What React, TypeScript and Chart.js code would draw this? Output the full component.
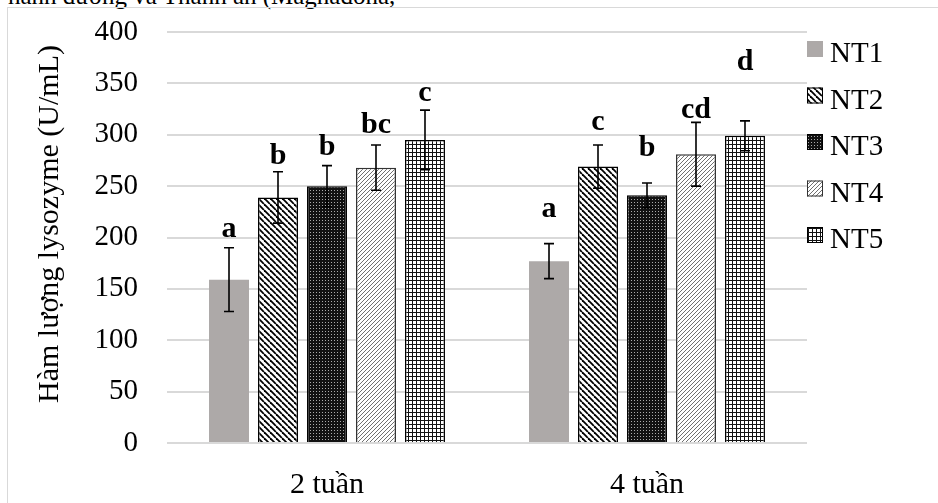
import React, { useEffect, useRef } from 'react';
import { Chart, registerables } from 'chart.js';

Chart.register(...registerables);

// ---- data ----
const categories = ['2 tuần', '4 tuần'];
const seriesNames = ['NT1', 'NT2', 'NT3', 'NT4', 'NT5'];

const nt1 = [159, 177];
const nt2 = [239, 269];
const nt3 = [250, 241];
const nt4 = [268, 281];
const nt5 = [295, 299];

const nt1Err = [31, 17];
const nt2Err = [25, 21];
const nt3Err = [20, 12];
const nt4Err = [22, 31];
const nt5Err = [29, 14.5];

const nt1Letters = ['a', 'a'];
const nt2Letters = ['b', 'c'];
const nt3Letters = ['b', 'b'];
const nt4Letters = ['bc', 'cd'];
const nt5Letters = ['c', 'd'];

// value level where each significance letter sits (its baseline)
const nt1LetterAt = [200.5, 220];
const nt2LetterAt = [272, 304.5];
const nt3LetterAt = [280, 279];
const nt4LetterAt = [301.7, 316];
const nt5LetterAt = [332.6, 362.7];

const yMin = 0;
const yMax = 400;
const yStep = 50;

const yTitle = 'Hàm lượng lysozyme (U/mL)';
const caption = 'hành dương và Thanh an (Magnadona,';

const values = [nt1, nt2, nt3, nt4, nt5];
const errors = [nt1Err, nt2Err, nt3Err, nt4Err, nt5Err];
const letters = [nt1Letters, nt2Letters, nt3Letters, nt4Letters, nt5Letters];
const letterAt = [nt1LetterAt, nt2LetterAt, nt3LetterAt, nt4LetterAt, nt5LetterAt];

const SERIF = '"Liberation Serif", "Times New Roman", serif';

function tile(size: number, draw: (c: CanvasRenderingContext2D) => void): CanvasPattern | string {
  const cv = document.createElement('canvas');
  cv.width = size;
  cv.height = size;
  const c = cv.getContext('2d');
  if (!c) return '#888';
  draw(c);
  const ctx2 = document.createElement('canvas').getContext('2d');
  return (ctx2 && ctx2.createPattern(cv, 'repeat')) || '#888';
}

function makeFills() {
  const solid = '#ADA9A8';
  const downDiag = tile(6, (c) => {
    c.fillStyle = '#fff';
    c.fillRect(0, 0, 6, 6);
    c.strokeStyle = '#000';
    c.lineWidth = 1.8;
    for (const k of [-6, 0, 6]) {
      c.beginPath();
      c.moveTo(k, 0);
      c.lineTo(k + 6, 6);
      c.stroke();
    }
  });
  const dots = tile(3, (c) => {
    c.fillStyle = '#111';
    c.fillRect(0, 0, 3, 3);
    c.fillStyle = '#aaa';
    c.fillRect(1, 1, 1, 1);
  });
  const upDiag = tile(4, (c) => {
    c.fillStyle = '#fff';
    c.fillRect(0, 0, 4, 4);
    c.strokeStyle = '#707070';
    c.lineWidth = 1;
    for (const k of [-4, 0, 4]) {
      c.beginPath();
      c.moveTo(k, 4);
      c.lineTo(k + 4, 0);
      c.stroke();
    }
  });
  const grid = tile(4, (c) => {
    c.fillStyle = '#fff';
    c.fillRect(0, 0, 4, 4);
    c.fillStyle = '#111';
    c.fillRect(0, 0, 4, 1);
    c.fillRect(0, 0, 1, 4);
  });
  return [solid, downDiag, dots, upDiag, grid];
}

const borderColors = ['rgba(0,0,0,0)', '#000', '#000', '#333', '#000'];
const borderWidths = [0, 1.5, 1.5, 1.5, 1.5];

export default function App() {
  const ref = useRef<HTMLCanvasElement | null>(null);

  useEffect(() => {
    if (!ref.current) return;
    const fills = makeFills();

    const overlay = {
      id: 'overlay',
      beforeDraw(chart: any) {
        const ctx = chart.ctx;
        ctx.save();
        ctx.strokeStyle = '#d9d9d9';
        ctx.lineWidth = 1;
        ctx.strokeRect(7.5, 7.5, chart.width + 20, chart.height + 20);
        ctx.restore();
      },
      afterDatasetsDraw(chart: any) {
        const ctx = chart.ctx;
        const y = chart.scales.y;
        ctx.save();
        values.forEach((_, d) => {
          const meta = chart.getDatasetMeta(d);
          meta.data.forEach((bar: any, i: number) => {
            const v = values[d][i];
            const e = errors[d][i];
            const x = bar.x;
            const yt = y.getPixelForValue(v + e);
            const yb = y.getPixelForValue(v - e);
            ctx.strokeStyle = '#000';
            ctx.lineWidth = 1.6;
            ctx.beginPath();
            ctx.moveTo(x, yt);
            ctx.lineTo(x, yb);
            ctx.moveTo(x - 5, yt);
            ctx.lineTo(x + 5, yt);
            ctx.moveTo(x - 5, yb);
            ctx.lineTo(x + 5, yb);
            ctx.stroke();
            ctx.fillStyle = '#000';
            ctx.font = `bold 30px ${SERIF}`;
            ctx.textAlign = 'center';
            ctx.textBaseline = 'alphabetic';
            ctx.fillText(letters[d][i], x, y.getPixelForValue(letterAt[d][i]));
          });
        });
        ctx.restore();
      },
      afterDraw(chart: any) {
        const ctx = chart.ctx;
        ctx.save();
        // legend
        seriesNames.forEach((name, i) => {
          const cy = 49 + i * 46.5;
          ctx.fillStyle = fills[i] as any;
          ctx.fillRect(807, cy - 8, 16, 16);
          if (borderWidths[i] > 0) {
            ctx.strokeStyle = borderColors[i];
            ctx.lineWidth = 1;
            ctx.strokeRect(807.5, cy - 7.5, 15, 15);
          }
          ctx.fillStyle = '#000';
          ctx.font = `29px ${SERIF}`;
          ctx.textAlign = 'left';
          ctx.textBaseline = 'alphabetic';
          ctx.fillText(name, 830, cy + 13);
        });
        // y axis title
        ctx.translate(58, 224);
        ctx.rotate(-Math.PI / 2);
        ctx.font = `30px ${SERIF}`;
        ctx.textAlign = 'center';
        ctx.textBaseline = 'alphabetic';
        ctx.fillStyle = '#000';
        ctx.fillText(yTitle, 0, 0);
        ctx.restore();
      },
    };

    const chart = new Chart(ref.current, {
      type: 'bar',
      data: {
        labels: categories,
        datasets: seriesNames.map((name, d) => ({
          label: name,
          data: values[d],
          backgroundColor: fills[d] as any,
          borderColor: borderColors[d],
          borderWidth: borderWidths[d],
          categoryPercentage: 0.7656,
          barPercentage: 0.816,
        })),
      },
      options: {
        responsive: false,
        animation: false,
        devicePixelRatio: 1,
        layout: { padding: { top: 32, right: 131, bottom: 0, left: 0 } },
        plugins: {
          legend: { display: false },
          tooltip: { enabled: false },
          title: { display: false },
        },
        scales: {
          x: {
            grid: { display: false, drawTicks: false },
            border: { display: false },
            ticks: { color: '#000', font: { family: SERIF, size: 30 }, padding: 24 },
            afterFit(scale: any) {
              scale.height = 60;
              scale.paddingLeft = 0;
              scale.paddingRight = 0;
            },
          },
          y: {
            min: yMin,
            max: yMax,
            grid: { color: '#d9d9d9', lineWidth: 2, drawTicks: false },
            border: { display: false },
            ticks: {
              stepSize: yStep,
              color: '#000',
              font: { family: SERIF, size: 29 },
              padding: 29,
            },
            afterFit(scale: any) {
              scale.width = 167;
              scale.paddingTop = 0;
              scale.paddingBottom = 0;
            },
          },
        },
      },
      plugins: [overlay],
    });
    return () => chart.destroy();
  }, []);

  return (
    <div style={{ position: 'fixed', left: 0, top: 0, width: 938, height: 503, overflow: 'hidden', background: '#fff' }}>
      <div
        style={{
          position: 'absolute',
          left: 8,
          top: -17,
          fontFamily: SERIF,
          fontSize: 25,
          lineHeight: '26px',
          color: '#000',
          whiteSpace: 'nowrap',
        }}
      >
        {caption}
      </div>
      <canvas ref={ref} width={938} height={503} style={{ position: 'absolute', left: 0, top: 0, width: 938, height: 503 }} />
    </div>
  );
}
